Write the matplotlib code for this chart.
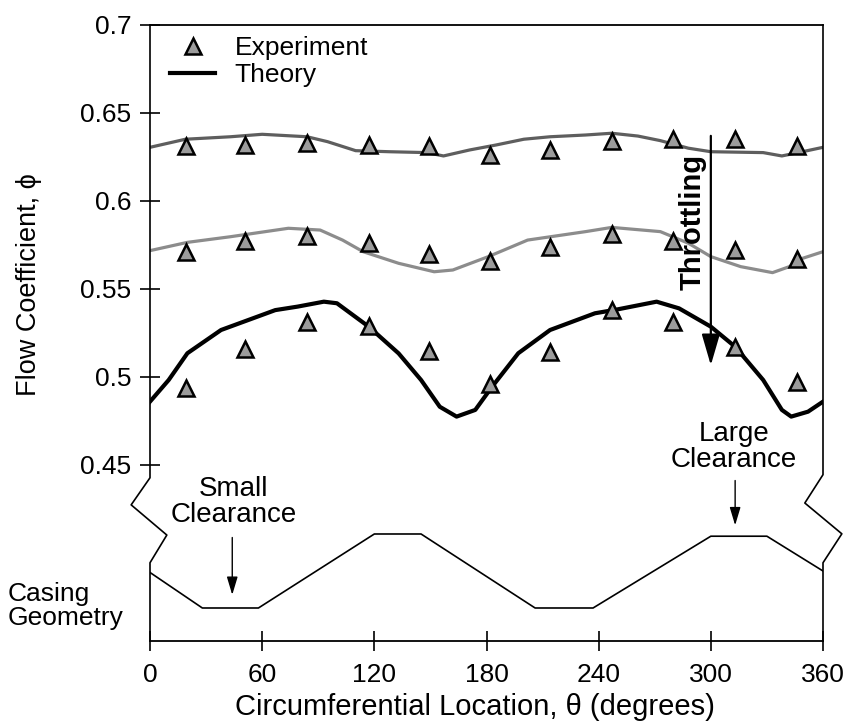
import matplotlib
matplotlib.use("Agg")
import matplotlib.pyplot as plt

plt.rcParams['font.family'] = ['Liberation Sans', 'DejaVu Sans']

# measured points (experiment), three throttle settings
theta_exp = [19, 51, 84, 117, 149, 182, 214, 247, 280, 313, 346]
phi_exp_high = [0.631, 0.632, 0.633, 0.632, 0.631, 0.626, 0.629, 0.634, 0.635, 0.635, 0.631]
phi_exp_mid = [0.571, 0.577, 0.580, 0.576, 0.570, 0.566, 0.574, 0.581, 0.577, 0.572, 0.567]
phi_exp_low = [0.494, 0.516, 0.531, 0.529, 0.515, 0.496, 0.514, 0.538, 0.531, 0.517, 0.497]

# theory curves
theta_th_high = [0, 19, 43, 60, 84, 95, 110, 128, 148, 157, 171, 185, 200, 214,
                 233, 247, 261, 273, 288, 300, 328, 338, 349, 360]
phi_th_high = [0.6305, 0.6351, 0.6365, 0.6379, 0.6365, 0.6337, 0.6286, 0.628, 0.6275,
               0.6256, 0.629, 0.6318, 0.6351, 0.6365, 0.6375, 0.6385, 0.6369, 0.6343,
               0.630, 0.628, 0.6275, 0.6256, 0.628, 0.6305]

theta_th_mid = [0, 20, 43, 74, 91, 103, 114, 133, 152, 162, 181, 202, 233, 247,
                273, 288, 300, 316, 333, 342, 349, 360]
phi_th_mid = [0.5718, 0.5765, 0.5797, 0.5845, 0.5835, 0.5778, 0.5712, 0.5646, 0.5598,
              0.5608, 0.5684, 0.5778, 0.5826, 0.585, 0.5826, 0.576, 0.5684, 0.5627,
              0.5593, 0.5627, 0.5674, 0.5712]

theta_th_low = [0, 10, 20, 38, 67, 79, 93, 100, 117, 133, 145, 155, 164, 174, 183,
                197, 214, 238, 250, 271, 283, 300, 313, 328, 338, 343, 352, 360]
phi_th_low = [0.486, 0.4983, 0.5135, 0.5267, 0.538, 0.540, 0.5428, 0.5419, 0.5286,
              0.5134, 0.4983, 0.4831, 0.4775, 0.4813, 0.4945, 0.5135, 0.5267, 0.5362,
              0.5384, 0.5428, 0.539, 0.5286, 0.5172, 0.4983, 0.4813, 0.4775, 0.4803, 0.486]

# casing geometry (relative clearance, 0 = small, 1 = large)
theta_casing = [0, 28, 58, 120, 145, 206, 237, 300, 330, 360]
clearance = [0.48, 0.0, 0.0, 1.0, 1.0, 0.0, 0.0, 0.97, 0.97, 0.50]

fig = plt.figure(figsize=(8.5, 7.25), dpi=100)
ax = fig.add_axes([150 / 850, 1 - 641 / 725, 673 / 850, 616 / 725])

ax.plot(theta_th_high, phi_th_high, color='#5e5e5e', lw=2.3)
ax.plot(theta_th_mid, phi_th_mid, color='#8c8c8c', lw=2.3)
l_th, = ax.plot(theta_th_low, phi_th_low, color='black', lw=3.0)

mk = dict(ls='none', marker='^', ms=11, mfc='#9c9c9c', mec='black', mew=1.8)
ax.plot(theta_exp, phi_exp_high, **mk)
ax.plot(theta_exp, phi_exp_mid, **mk)
l_ex, = ax.plot(theta_exp, phi_exp_low, **mk)

ax.set_xlim(0, 360)
ax.set_ylim(0.35, 0.7)
ax.set_xticks([0, 60, 120, 180, 240, 300, 360])
ax.set_yticks([0.45, 0.5, 0.55, 0.6, 0.65, 0.7])
ax.set_yticklabels(['0.45', '0.5', '0.55', '0.6', '0.65', '0.7'])
ax.tick_params(axis='both', direction='inout', length=15, width=1.2, labelsize=19)
ax.tick_params(axis='y', pad=6)
ax.tick_params(axis='x', pad=8)

ax.spines['left'].set_visible(False)
ax.spines['right'].set_visible(False)
for s in ['top', 'bottom']:
    ax.spines[s].set_linewidth(1.3)

# broken side axes
kw = dict(transform=ax.transAxes, color='black', lw=1.2, clip_on=False)
ax.plot([0, 0, -0.028, 0.025, 0, 0], [1, 0.265, 0.221, 0.172, 0.127, 0], **kw)
ax.plot([1, 1, 0.973, 1.028, 1, 1], [1, 0.27, 0.224, 0.174, 0.127, 0], **kw)

ax.set_xlabel('Circumferential Location, θ (degrees)', fontsize=21)
ax.xaxis.set_label_coords(0.483, -0.085)
ax.set_ylabel('Flow Coefficient, ϕ', fontsize=19.5)
ax.yaxis.set_label_coords(-0.16, 0.578)

ax.legend([l_ex, l_th], ['Experiment', 'Theory'], loc='upper left',
          bbox_to_anchor=(0.03, 0.982), frameon=False,
          fontsize=19, handlelength=1.7, handletextpad=0.75, labelspacing=0.12,
          borderpad=0, borderaxespad=0, numpoints=1)

# throttling arrow
ax.annotate('', xy=(300, 0.5051), xytext=(300, 0.6386),
            arrowprops=dict(arrowstyle='-|>,head_length=1.2,head_width=0.35',
                            mutation_scale=16, lw=1.6, color='black'))
ax.text(290, 0.588, 'Throttling', rotation=90, fontsize=21, fontweight='bold',
        ha='center', va='center')

# casing geometry on its own scale
ax2 = ax.twinx()
ax2.set_ylim(-0.446, 7.878)
ax2.axis('off')
ax2.plot(theta_casing, clearance, color='black', lw=1.2)

ap = dict(arrowstyle='-|>,head_length=1.0,head_width=0.3', mutation_scale=11,
          lw=1.0, color='black')
ax2.annotate('', xy=(44, 0.14), xytext=(44, 0.99), arrowprops=ap)
ax2.annotate('', xy=(313, 1.08), xytext=(313, 1.76), arrowprops=ap)
ax2.text(44.6, 1.43, 'Small\nClearance', fontsize=20, ha='center', va='center',
         linespacing=1.0)
ax2.text(312.5, 2.18, 'Large\nClearance', fontsize=20, ha='center', va='center',
         linespacing=1.0)
ax.text(-0.211, 0.057, 'Casing\nGeometry', transform=ax.transAxes, fontsize=19,
        ha='left', va='center', linespacing=1.0)

fig.savefig('out.png', dpi=100)
